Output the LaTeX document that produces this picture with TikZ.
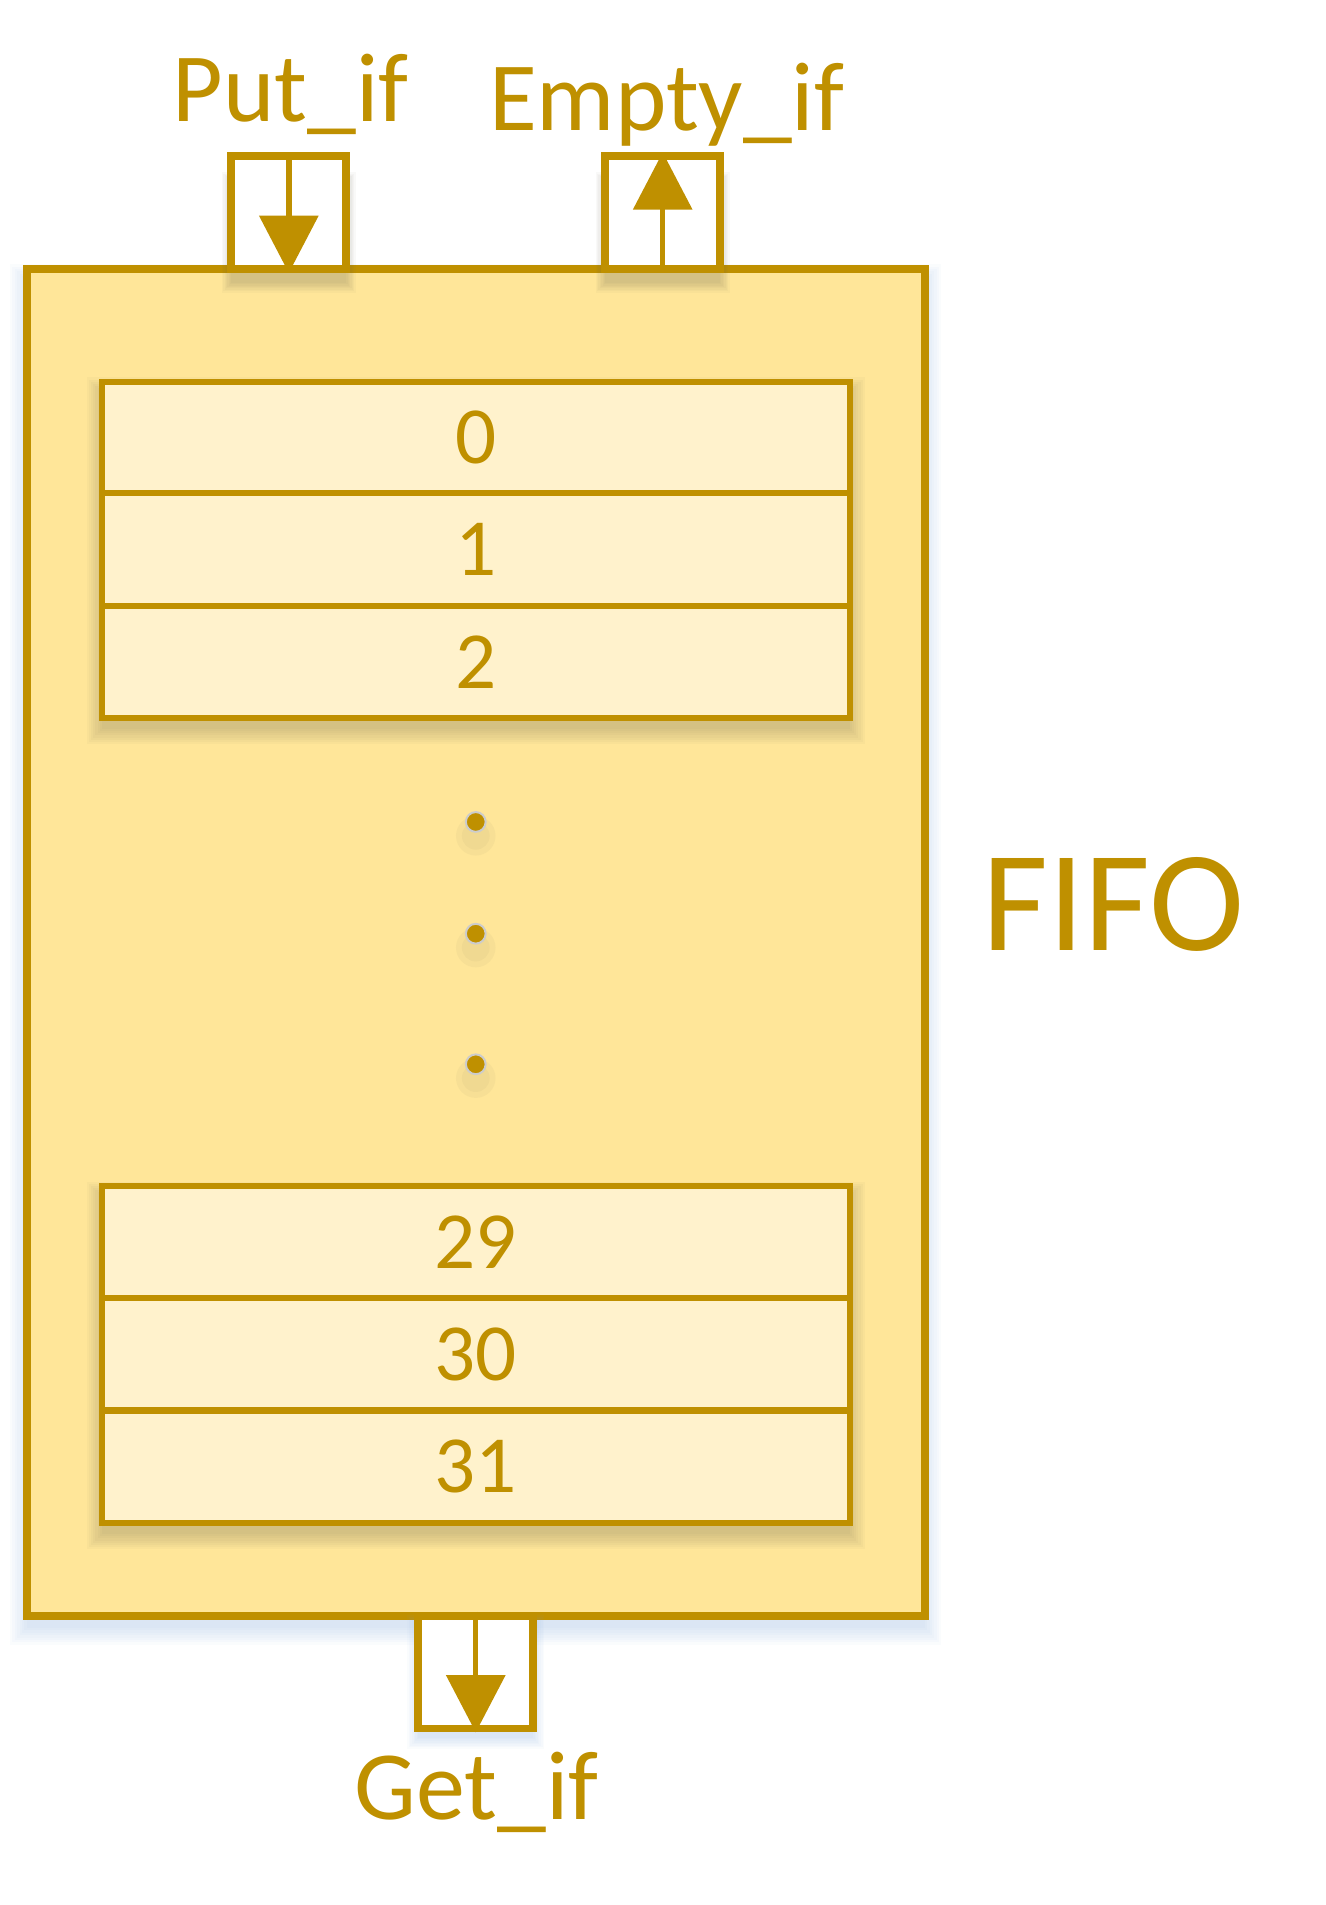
\documentclass[tikz,border=0pt]{standalone}
\usepackage{fontspec}
\setmainfont{Carlito}
\usetikzlibrary{arrows.meta}
\definecolor{gold}{HTML}{BF9000}
\definecolor{goldfill}{HTML}{FFE699}
\definecolor{cellfill}{HTML}{FFF2CC}
\definecolor{shblue}{HTML}{7EA6D8}
\definecolor{shgray}{HTML}{6E6A55}
% soft shadow: x1 y1 x2 y2 (px, y down), colour, y offset, spread step
\newcommand{\softsh}[7]{%
  \foreach \k in {0,...,7}{%
    \fill[#5,opacity=0.04] ({#1-\k*#7},{#2-\k*#7+#6}) rectangle ({#3+\k*#7},{#4+\k*#7+#6});
  }}
\begin{document}
\begin{tikzpicture}[x=0.5pt,y=-0.5pt,
  fifobox/.style={draw=gold,fill=goldfill,line width=4pt,minimum width=454pt,minimum height=681pt,inner sep=0pt},
  cell/.style={draw=gold,fill=cellfill,line width=3pt,minimum width=378pt,minimum height=56.75pt,inner sep=0pt,
    text=gold,font=\fontsize{41pt}{41pt}\selectfont},
  port/.style={draw=gold,fill=white,line width=4pt,minimum width=58pt,minimum height=57pt,inner sep=0pt},
  lbl/.style={text=gold,font=\fontsize{49.5pt}{50pt}\selectfont,anchor=base,inner sep=0pt},
  flow/.style={draw=gold,line width=2.75pt,-{Triangle[width=29.5pt,length=29pt]}},
  dotmark/.style={circle,fill=gold,draw=gray!40,line width=1pt,minimum size=10pt,inner sep=0pt}
]
\useasboundingbox (0,0) rectangle (1340,1926);
% shadows (drawn first)
\softsh{27}{272}{935}{1634}{shblue}{12}{2.4}
\node[fifobox] (fifo) at (481,953) {};
\softsh{103}{386}{859}{726}{shgray}{11}{2.2}
\softsh{103}{1199}{859}{1540}{shgray}{11}{2.2}
\node[cell] (c0) at (481,442.5) {0};
\node[cell] (c1) at (481,555.5) {1};
\node[cell] (c2) at (481,669) {2};
\node[cell] (c29) at (481,1255.5) {29};
\node[cell] (c30) at (481,1369) {30};
\node[cell] (c31) at (481,1483) {31};
\foreach \yy in {831,944,1076}{%
  \fill[shgray,opacity=0.05] (481,{\yy+14}) circle (7pt);
  \fill[shgray,opacity=0.05] (481,{\yy+14}) circle (10pt);}
\node[dotmark] (d1) at (481,831) {};
\node[dotmark] (d2) at (481,944) {};
\node[dotmark] (d3) at (481,1076) {};
\softsh{234}{170}{350}{272}{shgray}{14}{1.4}
\softsh{612}{170}{728}{272}{shgray}{14}{1.4}
\softsh{423}{1634}{539}{1747}{shblue}{10}{1.6}
\node[port] (put) at (292,215) {};
\node[port] (empty) at (670,215) {};
\node[port] (get) at (481,1690.5) {};
\draw[flow] (put.north) -- (put.south);
\draw[flow] (empty.south) -- (empty.north);
\draw[flow] (get.north) -- (get.south);
\node[lbl] (putl) at (294,123) {Put\_if};
\node[lbl] (emptyl) at (674,132) {Empty\_if};
\node[lbl] (getl) at (482,1840) {Get\_if};
\node[lbl,font=\fontsize{72.5pt}{73pt}\selectfont] (fifol) at (1126,961) {FIFO};
\end{tikzpicture}
\end{document}
